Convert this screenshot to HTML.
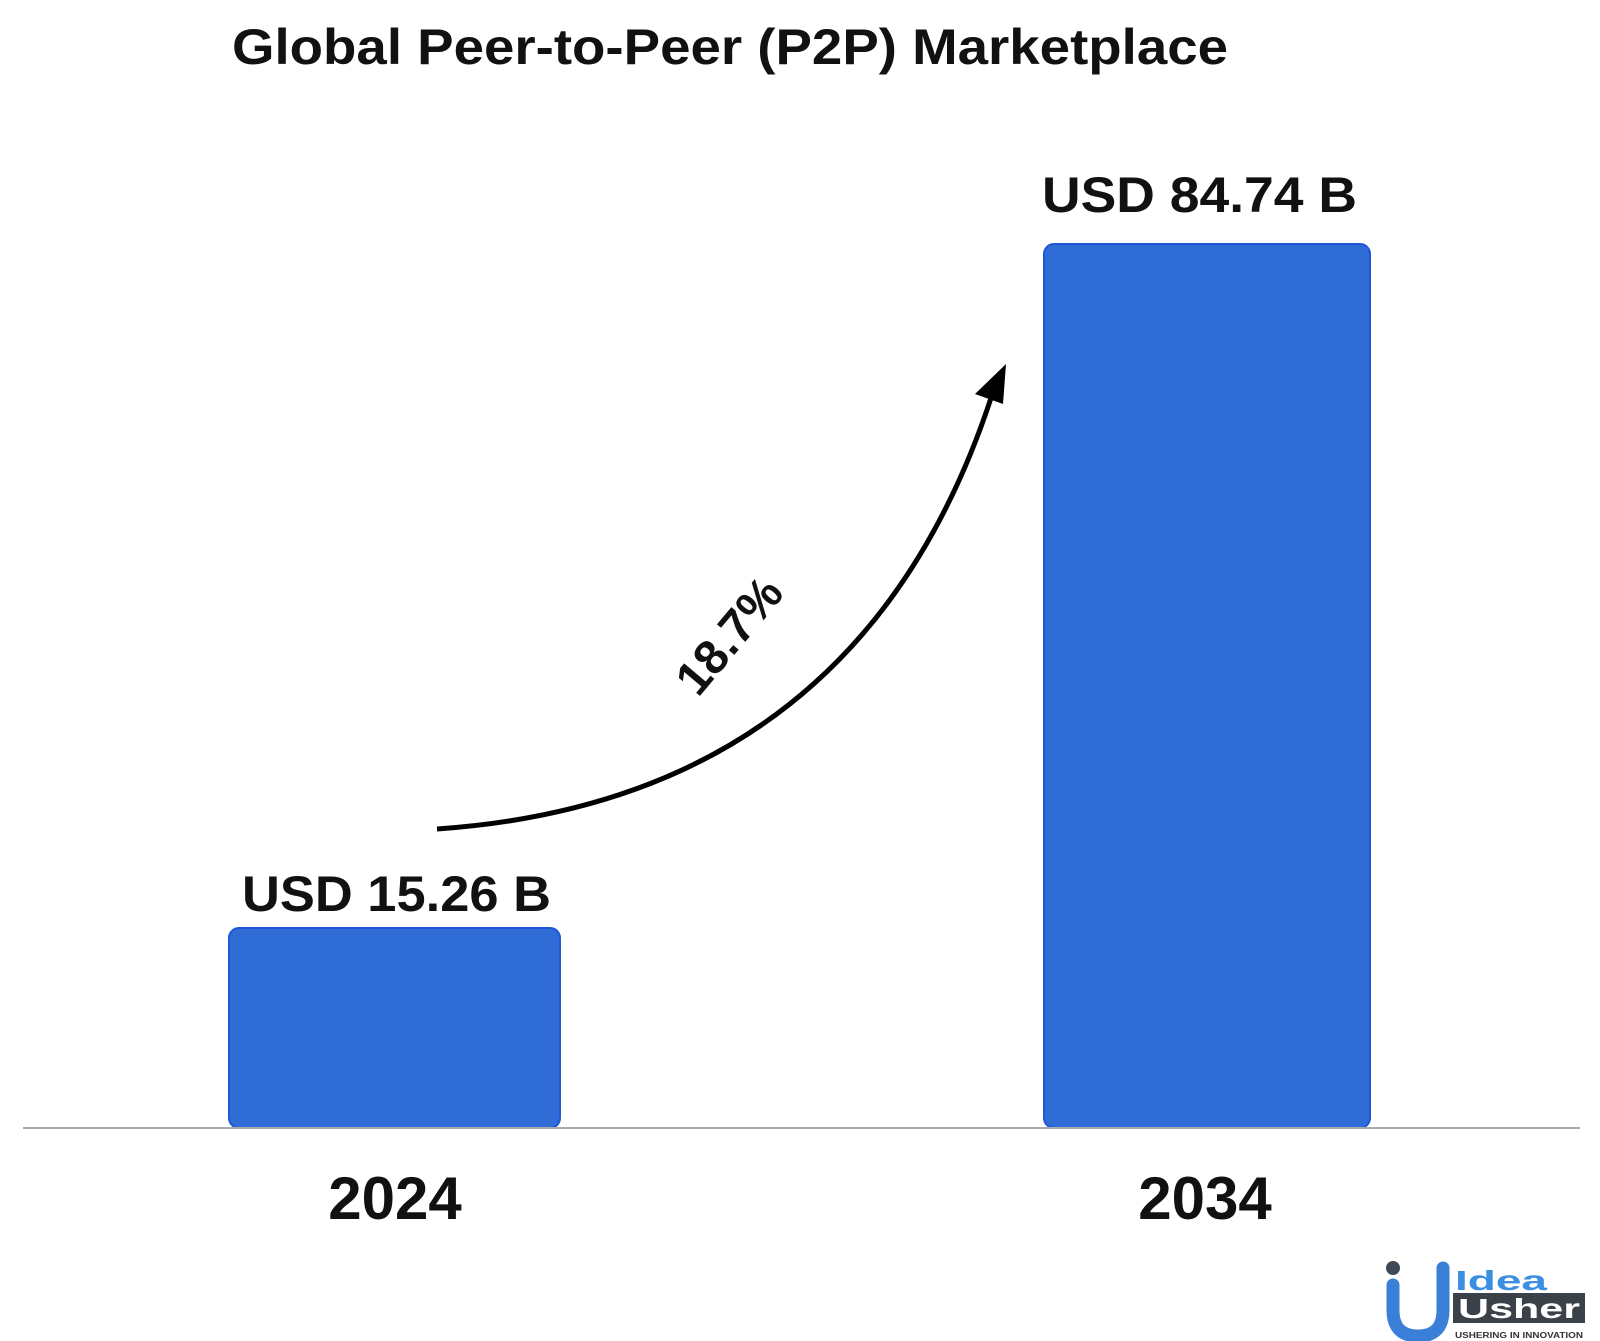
<!DOCTYPE html>
<html><head><meta charset="utf-8"><style>
body{margin:0;background:#fff;}
svg{display:block;font-family:"Liberation Sans",sans-serif;}
</style></head><body>
<svg width="1600" height="1341" viewBox="0 0 1600 1341">
<text x="232" y="64" font-size="50" font-weight="bold" fill="#111" textLength="996" lengthAdjust="spacingAndGlyphs">Global Peer-to-Peer (P2P) Marketplace</text>
<rect x="229" y="928" width="331" height="200" rx="10" fill="#2f6cd6" stroke="#1f55d8" stroke-width="2"/>
<rect x="1044" y="244" width="326" height="884" rx="10" fill="#2f6cd6" stroke="#1f55d8" stroke-width="2"/>
<line x1="23" y1="1128" x2="1580" y2="1128" stroke="#aaa" stroke-width="2"/>
<text x="242" y="911" font-size="50" font-weight="bold" fill="#111" textLength="309" lengthAdjust="spacingAndGlyphs">USD 15.26 B</text>
<text x="1042" y="212" font-size="50" font-weight="bold" fill="#111" textLength="315" lengthAdjust="spacingAndGlyphs">USD 84.74 B</text>
<text x="395" y="1219" font-size="60" font-weight="bold" text-anchor="middle" fill="#111">2024</text>
<text x="1205" y="1219" font-size="60" font-weight="bold" text-anchor="middle" fill="#111">2034</text>
<path d="M437 829 Q860 800 992 395" fill="none" stroke="#000" stroke-width="5"/>
<polygon points="1006,364 975,394 1003,404" fill="#000"/>
<text transform="translate(732,638) rotate(-50)" font-size="48" font-weight="bold" text-anchor="middle" dominant-baseline="middle" fill="#111">18.7%</text>
<circle cx="1393" cy="1268" r="7" fill="#3d4a55"/>
<path d="M1393 1285 V1310 Q1393 1336 1418 1336 Q1443 1336 1443 1310 V1268" fill="none" stroke="#3a7fd8" stroke-width="13" stroke-linecap="round"/>
<text x="1455" y="1290" font-size="28" font-weight="bold" fill="#3a8fe0" textLength="92" lengthAdjust="spacingAndGlyphs">Idea</text>
<rect x="1453" y="1293" width="132" height="30" fill="#3a4148"/>
<text x="1458" y="1318" font-size="28" font-weight="bold" fill="#fff" textLength="122" lengthAdjust="spacingAndGlyphs">Usher</text>
<text x="1455" y="1338" font-size="8" font-weight="bold" fill="#333" textLength="128" lengthAdjust="spacingAndGlyphs">USHERING IN INNOVATION</text>
</svg>
</body></html>
